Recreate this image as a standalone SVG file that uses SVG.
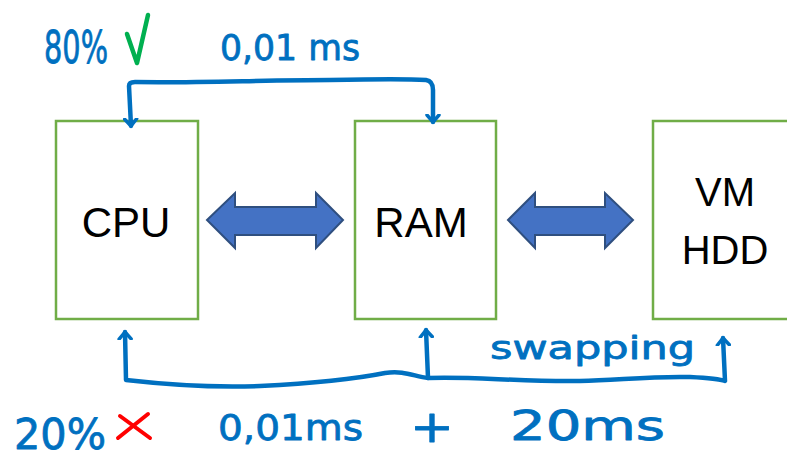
<svg xmlns="http://www.w3.org/2000/svg" width="787" height="458" viewBox="0 0 787 458">
  <defs>
    <style>
      .box { fill: #ffffff; stroke: #70AD47; stroke-width: 2.5; }
      .label { font-family: "Liberation Sans", Arial, sans-serif; font-size: 42px; fill: #000000; text-anchor: middle; }
      .dbl { fill: #4472C4; stroke: #2F4F7F; stroke-width: 2; stroke-linejoin: miter; }
      .ink { fill: none; stroke: #0070C0; stroke-width: 4.5; stroke-linecap: round; stroke-linejoin: round; }
      .note { font-family: "DejaVu Sans", "Liberation Sans", sans-serif; fill: #0070C0; stroke: #0070C0; stroke-width: 0.8; stroke-linejoin: round; }
    </style>
    <marker id="pen-head" viewBox="-8 -8 16 16" markerWidth="16" markerHeight="16" markerUnits="userSpaceOnUse" refX="0" refY="0" orient="auto-start-reverse">
      <polyline points="-7,-6 0,0 -7,6" fill="none" stroke="#0070C0" stroke-width="3.5" stroke-linecap="round" stroke-linejoin="round"/>
    </marker>
  </defs>

  <rect width="787" height="458" fill="#ffffff"/>

  <!-- nodes -->
  <g id="cpu">
    <rect class="box" x="56" y="121" width="142" height="198"/>
    <text class="label" x="126" y="237">CPU</text>
  </g>
  <g id="ram">
    <rect class="box" x="355" y="121" width="141" height="198"/>
    <text class="label" x="421" y="237">RAM</text>
  </g>
  <g id="vm-hdd">
    <rect class="box" x="653" y="121" width="150" height="198"/>
    <text class="label" x="725" y="206" style="font-size:40px">VM</text>
    <text class="label" x="725" y="264" style="font-size:40px">HDD</text>
  </g>

  <!-- connectors -->
  <g id="connectors">
    <!-- block double arrows between the boxes -->
    <polygon class="dbl" points="207,220 235,193 235,207 316,207 316,193 343,220 316,248 316,235 235,235 235,248"/>
    <polygon class="dbl" points="508,220 535,193 535,207 605,207 605,193 633,220 605,248 605,235 535,235 535,248"/>

    <!-- hand-drawn path CPU -> RAM over the top -->
    <path class="ink" d="M131,126 L129,86 Q129,82 135,82 C200,83 260,80 330,80 C380,79 410,79 426,80 Q433,81 433,90 L433,122" marker-start="url(#pen-head)" marker-end="url(#pen-head)"/>

    <!-- hand-drawn swapping path underneath -->
    <path class="ink" d="M125,332 L126,380 C170,385 210,388 260,386 C320,383 360,378 385,373 C405,370 415,377 428,378 C470,376 520,382 580,381 C620,380 650,376 690,377 C710,378 720,379 725,381 L723,338" marker-start="url(#pen-head)" marker-end="url(#pen-head)"/>
    <path class="ink" d="M428,378 L426,330" marker-end="url(#pen-head)"/>
  </g>

  <!-- handwritten notes -->
  <g id="notes">
    <text class="note" x="44" y="63" font-size="44" textLength="64" lengthAdjust="spacingAndGlyphs">80%</text>
    <path d="M127,34 L137,63 L148,15" fill="none" stroke="#00B050" stroke-width="4.5" stroke-linecap="round" stroke-linejoin="round"/>
    <text class="note" x="220" y="60" font-size="36" textLength="140" lengthAdjust="spacingAndGlyphs">0,01 ms</text>

    <text class="note" x="490" y="359" font-size="32" textLength="205" lengthAdjust="spacingAndGlyphs">swapping</text>

    <text class="note" x="14" y="449" font-size="42" textLength="92" lengthAdjust="spacingAndGlyphs">20%</text>
    <path d="M118,438 L148,414 M120,416 L150,438" fill="none" stroke="#FF0000" stroke-width="4" stroke-linecap="round"/>
    <text class="note" x="218" y="440" font-size="36" textLength="145" lengthAdjust="spacingAndGlyphs">0,01ms</text>
    <text class="note" x="410" y="442" font-size="44" textLength="44" lengthAdjust="spacingAndGlyphs">+</text>
    <text class="note" x="510" y="440" font-size="40" textLength="155" lengthAdjust="spacingAndGlyphs">20ms</text>
  </g>
</svg>
